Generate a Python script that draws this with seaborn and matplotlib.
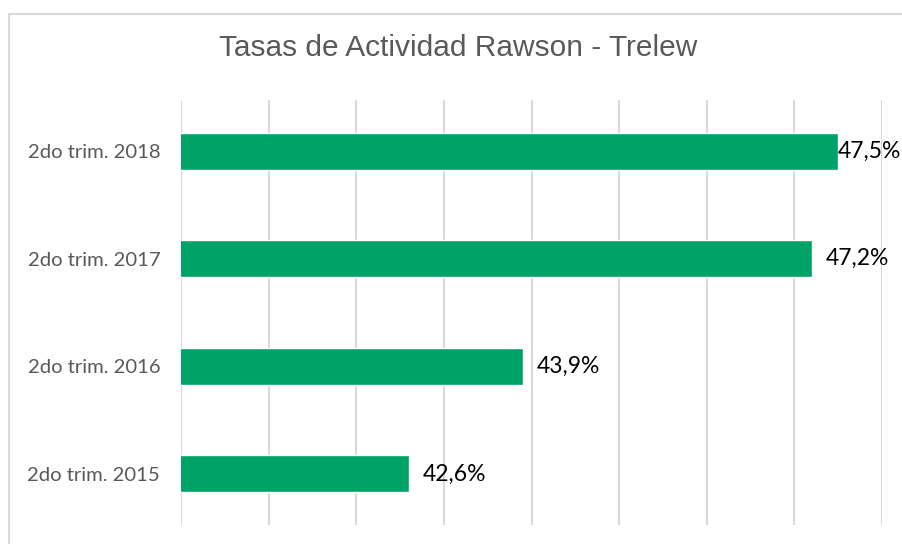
import matplotlib
matplotlib.use("Agg")
import matplotlib.pyplot as plt
import seaborn as sns
import pandas as pd
from matplotlib.lines import Line2D

# Data
periodos = ["2do trim. 2018", "2do trim. 2017", "2do trim. 2016", "2do trim. 2015"]
tasas = [47.5, 47.2, 43.9, 42.6]
etiquetas = ["47,5%", "47,2%", "43,9%", "42,6%"]

df = pd.DataFrame({"periodo": periodos, "tasa": tasas})

sns.set_style("white")
plt.rcParams["font.family"] = ["Liberation Sans", "DejaVu Sans"]

fig = plt.figure(figsize=(9.02, 5.44), dpi=100)
ax = fig.add_axes([181 / 902, 19 / 544, 701 / 902, 425 / 544])

sns.barplot(data=df, x="tasa", y="periodo", orient="h", color="#00A367",
            width=0.345, saturation=1, ax=ax)

ax.set_xlim(40, 48)
ax.set_ylim(3.475, -0.475)
ax.set_xticks(range(40, 49))
ax.set_xticklabels([])
ax.tick_params(axis="x", length=0)
ax.tick_params(axis="y", length=0, pad=15)
ax.grid(axis="x", color="#D9D9D9", linewidth=1.5)
ax.set_axisbelow(True)
for s in ax.spines.values():
    s.set_visible(False)
ax.set_xlabel("")
ax.set_ylabel("")
for lbl in ax.get_yticklabels():
    lbl.set_fontfamily(["Lato", "DejaVu Sans"])
    lbl.set_fontsize(14.6)
    lbl.set_color("#595959")

# value labels
offsets = [0.0, 0.16, 0.16, 0.16]
for i, (v, t) in enumerate(zip(tasas, etiquetas)):
    ax.text(v + offsets[i], i, t, va="center", ha="left", fontsize=16.5,
            color="#000000", family=["Lato", "DejaVu Sans"], clip_on=False)

fig.text(458 / 902, 1 - 48 / 544, "Tasas de Actividad Rawson - Trelew",
         ha="center", va="center", fontsize=21.5, color="#595959")

# chart border (cropped)
fig.add_artist(Line2D([8.5 / 902, 8.5 / 902], [0, 1 - 14 / 544],
                      transform=fig.transFigure, color="#D9D9D9", linewidth=1.5))
fig.add_artist(Line2D([8.5 / 902, 1], [1 - 14 / 544, 1 - 14 / 544],
                      transform=fig.transFigure, color="#D9D9D9", linewidth=1.5))

fig.savefig("out.png", dpi=100)
